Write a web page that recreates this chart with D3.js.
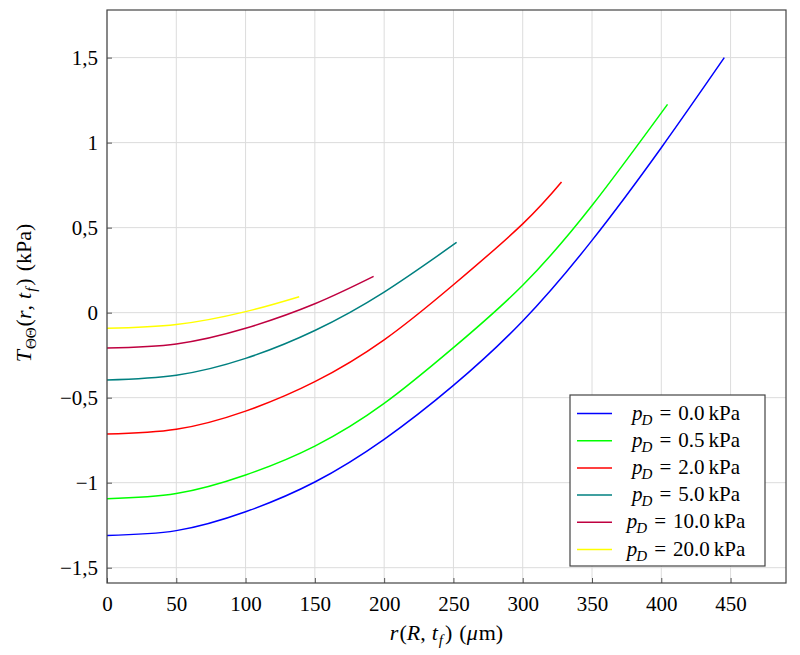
<!DOCTYPE html>
<html lang="en">

<head>
    <meta charset="UTF-8">
    <title>T_theta-theta vs r</title>
    <script src="https://d3js.org/d3.v7.min.js"></script>
    <style>
        body { margin: 0; background: #fff; }
        text { font-family: "Liberation Serif", "DejaVu Serif", serif; fill: #000; }
    </style>
</head>

<body>
    <script>

        // values
        var pressures = ["0.0", "0.5", "2.0", "5.0", "10.0", "20.0"];
        var colors = ["#0000ff", "#00ff00", "#ff0000", "#008080", "#bf0040", "#ffff00"];

        var rBlue = [0, 50, 100, 150, 200, 250, 300, 350, 400, 445.5];
        var tBlue = [-1.31, -1.282, -1.171, -0.996, -0.745, -0.428, -0.049, 0.425, 0.97, 1.5];
        var rGreen = [0, 50, 100, 150, 200, 250, 300, 350, 404.5];
        var tGreen = [-1.094, -1.064, -0.955, -0.785, -0.534, -0.206, 0.161, 0.63, 1.225];
        var rRed = [0, 50, 100, 150, 200, 250, 300, 328];
        var tRed = [-0.714, -0.686, -0.579, -0.406, -0.16, 0.164, 0.522, 0.768];
        var rTeal = [0, 50, 100, 150, 200, 252.3];
        var tTeal = [-0.396, -0.368, -0.269, -0.105, 0.121, 0.413];
        var rPurple = [0, 50, 100, 150, 192.4];
        var tPurple = [-0.208, -0.184, -0.092, 0.052, 0.213];
        var rYellow = [0, 50, 100, 138.7];
        var tYellow = [-0.092, -0.07, 0.006, 0.094];

        var xTicks = [0, 50, 100, 150, 200, 250, 300, 350, 400, 450];
        var yTicks = [-1.5, -1, -0.5, 0, 0.5, 1, 1.5];

        var series = [
            [rBlue, tBlue], [rGreen, tGreen], [rRed, tRed],
            [rTeal, tTeal], [rPurple, tPurple], [rYellow, tYellow]
        ].map(function (s, i) {
            return {
                p: pressures[i],
                color: colors[i],
                pts: s[0].map(function (r, j) { return [r, s[1][j]]; })
            };
        });

        var W = 800, H = 655;
        var pLeft = 107, pTop = 10, pRight = 786, pBottom = 583;
        var fs = 21, fsSub = 15;

        var svg = d3.select("body").append("svg")
            .attr("width", W)
            .attr("height", H);

        var x = d3.scaleLinear().domain([0, 490]).range([pLeft, pRight]);
        var y = d3.scaleLinear().domain([-1.59, 1.78]).range([pBottom, pTop]);

        var loc = d3.formatLocale({ decimal: ",", thousands: ".", grouping: [3], currency: ["", ""], minus: "\u2212" });
        var fmtY = loc.format("~g");

        // grid
        svg.append("g").selectAll("line").data(xTicks).join("line")
            .attr("x1", d => x(d)).attr("x2", d => x(d))
            .attr("y1", pTop).attr("y2", pBottom)
            .attr("stroke", "#dcdcdc").attr("stroke-width", 1);
        svg.append("g").selectAll("line").data(yTicks).join("line")
            .attr("x1", pLeft).attr("x2", pRight)
            .attr("y1", d => y(d)).attr("y2", d => y(d))
            .attr("stroke", "#dcdcdc").attr("stroke-width", 1);

        // axes (ticks inward, like pgfplots)
        var xAxis = svg.append("g")
            .attr("transform", "translate(0," + pBottom + ")")
            .call(d3.axisBottom(x).tickValues(xTicks).tickSizeInner(-5).tickSizeOuter(0).tickPadding(13));
        var yAxis = svg.append("g")
            .attr("transform", "translate(" + pLeft + ",0)")
            .call(d3.axisLeft(y).tickValues(yTicks).tickFormat(fmtY).tickSizeInner(-5).tickSizeOuter(0).tickPadding(9));
        [xAxis, yAxis].forEach(function (a) {
            a.select(".domain").remove();
            a.selectAll(".tick line").attr("stroke", "#555");
            a.selectAll(".tick text").attr("font-size", fs)
                .style("font-family", "'Liberation Serif', serif");
        });

        // curves
        var line = d3.line()
            .x(d => x(d[0]))
            .y(d => y(d[1]))
            .curve(d3.curveNatural);

        svg.append("g").selectAll("path").data(series).join("path")
            .attr("d", d => line(d.pts))
            .attr("fill", "none")
            .attr("stroke", d => d.color)
            .attr("stroke-width", 1.5);

        // frame
        svg.append("rect")
            .attr("x", pLeft).attr("y", pTop)
            .attr("width", pRight - pLeft).attr("height", pBottom - pTop)
            .attr("fill", "none").attr("stroke", "#444").attr("stroke-width", 1.2);

        // little helper to add tspans: [text, italic, sub, dx]
        function addParts(t, parts) {
            var shift = 0;
            parts.forEach(function (p) {
                var s = t.append("tspan").text(p[0]);
                if (p[1]) s.attr("font-style", "italic");
                var target = p[2] ? 5 : 0;
                if (target !== shift) { s.attr("dy", target - shift); shift = target; }
                if (p[2]) s.attr("font-size", fsSub);
                if (p[3]) s.attr("dx", p[3]);
            });
        }

        // axis labels
        var xl = svg.append("text")
            .attr("x", (pLeft + pRight) / 2).attr("y", 640)
            .attr("text-anchor", "middle").attr("font-size", fs + 1);
        addParts(xl, [["r", 1], ["(", 0, 0, 1], ["R", 1], [",", 0], ["t", 1, 0, 6], ["f", 1, 1, 1],
            [")", 0, 0, 2], ["(", 0, 0, 7], ["\u03bc", 1], ["m", 0, 0, 1], [")", 0]]);

        var yl = svg.append("text")
            .attr("transform", "translate(31,293) rotate(-90)")
            .attr("text-anchor", "middle").attr("font-size", fs + 1);
        addParts(yl, [["T", 1], ["\u0398\u0398", 0, 1, 1], ["(", 0, 0, 1], ["r", 1], [",", 0], ["t", 1, 0, 6],
            ["f", 1, 1, 1], [")", 0, 0, 2], ["(", 0, 0, 7], ["k", 0], ["Pa", 0], [")", 0]]);

        // legend
        var lx = 570, ly = 395, lw = 195, lh = 171, step = 27.2;
        var legend = svg.append("g");
        legend.append("rect")
            .attr("x", lx).attr("y", ly).attr("width", lw).attr("height", lh)
            .attr("fill", "#fff").attr("stroke", "#444").attr("stroke-width", 1.2);

        var items = legend.selectAll("g.item").data(series).join("g")
            .attr("class", "item")
            .attr("transform", (d, i) => "translate(0," + (ly + 18.5 + i * step) + ")");
        items.append("line")
            .attr("x1", lx + 7).attr("x2", lx + 42)
            .attr("y1", 0).attr("y2", 0)
            .attr("stroke", d => d.color).attr("stroke-width", 1.5);
        items.each(function (d) {
            var t = d3.select(this).append("text")
                .attr("x", lx + 116).attr("y", 6)
                .attr("text-anchor", "middle").attr("font-size", fs);
            addParts(t, [["p", 1], ["D", 1, 1, -1], ["=", 0, 0, 7], [d.p, 0, 0, 7], ["kPa", 0, 0, 4]]);
        });

    </script>
</body>

</html>
